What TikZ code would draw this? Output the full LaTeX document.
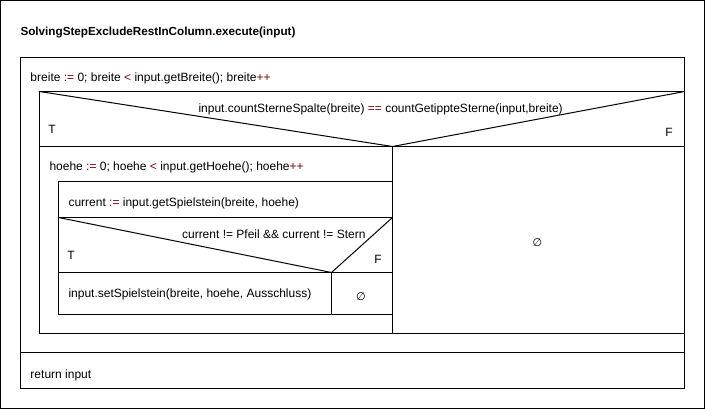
\documentclass[tikz,border=0pt]{standalone}
\usepackage{fontspec}
\setmainfont{Liberation Sans}
\newfontfamily\dejavu{DejaVu Sans}
\definecolor{opred}{RGB}{130,0,0}
\newcommand{\kw}[1]{\textcolor{opred}{#1}}
\begin{document}
\begin{tikzpicture}[
	x=1pt,y=-1pt,
	line width=1pt,
	line cap=rect,
	line join=miter,
	txt/.style={anchor=base west,inner sep=0pt,font=\fontsize{12}{14}\selectfont},
	ttl/.style={txt,font=\fontsize{11.7}{14}\selectfont\bfseries},
	lbl/.style={anchor=base,inner sep=0pt,font=\fontsize{12}{14}\selectfont},
	none/.style={inner sep=0pt,font=\fontsize{11}{13}\selectfont\dejavu\itshape}
	]
	\useasboundingbox (0,0) rectangle (705,409);
	\draw (0.5,0.5) rectangle (704.5,408.5);
	\node[ttl] (title) at (20,36) {SolvingStepExcludeRestInColumn\kw{.}execute(input)};
	\begin{scope}[xshift=0.5pt,yshift=-0.5pt]
		% for breite
		\draw (20,57) rectangle (684,352);
		\draw (39,91) -- (684,91);
		\draw (39,91) -- (39,333) -- (684,333);
		% if countSterneSpalte
		\draw (39,91) -- (392,146) -- (684,91);
		\draw (39,146) -- (684,146);
		\draw (392,146) -- (392,333);
		% for hoehe
		\draw (58,181) -- (392,181);
		\draw (58,181) -- (58,314) -- (392,314);
		\draw (58,217) -- (392,217);
		% if current
		\draw (58,217) -- (331,272) -- (392,217);
		\draw (58,272) -- (392,272);
		\draw (331,272) -- (331,314);
		% return
		\draw (20,352) rectangle (684,388);
	\end{scope}
	\node[txt] (forbreite) at (30,82) {breite \kw{:=} 0; breite \kw{<} input\kw{.}getBreite(); breite\kw{++}};
	\node[txt] (cond1) at (198,113) {input\kw{.}countSterneSpalte(breite) \kw{==} countGetippteSterne(input,breite)};
	\node[lbl] (t1) at (52,134) {T};
	\node[lbl] (f1) at (669,137) {F};
	\node[txt] (forhoehe) at (49,171) {hoehe \kw{:=} 0; hoehe \kw{<} input\kw{.}getHoehe(); hoehe\kw{++}};
	\node[txt] (current) at (68,207) {current \kw{:=} input\kw{.}getSpielstein(breite, hoehe)};
	\node[txt,anchor=base east] (cond2) at (366,239) {current != Pfeil \&\& current != Stern};
	\node[lbl] (t2) at (71,260) {T};
	\node[lbl] (f2) at (378,263) {F};
	\node[txt] (setstein) at (68,298) {input\kw{.}setSpielstein(breite, hoehe, Ausschluss)};
	\node[none] (empty2) at (361,296.5) {∅};
	\node[none] (empty1) at (537.5,242.5) {∅};
	\node[txt] (ret) at (30,378) {return input};
\end{tikzpicture}
\end{document}
